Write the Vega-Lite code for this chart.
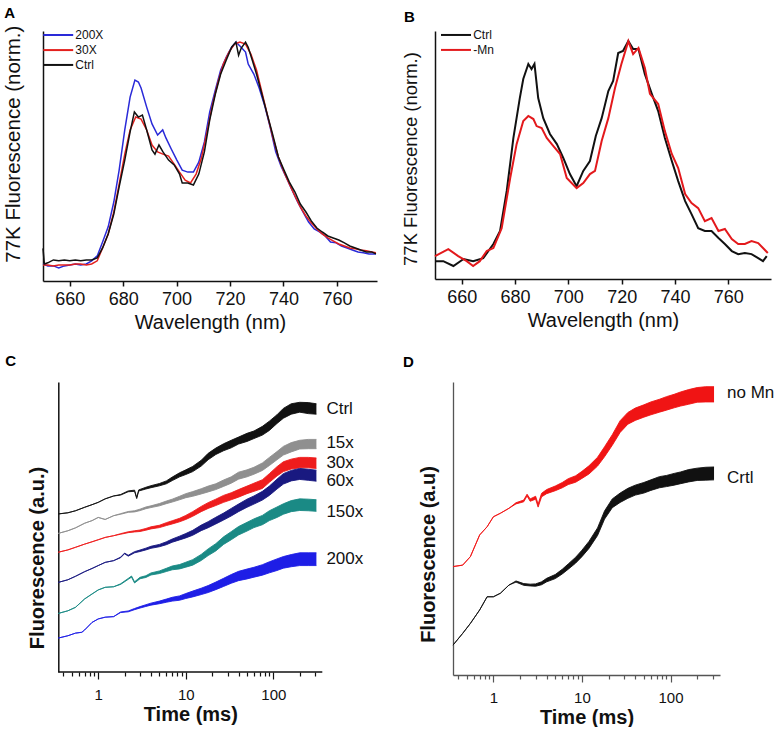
{
"$schema": "https://vega.github.io/schema/vega-lite/v6.json",
"background": "white",
"padding": {"left": 2, "top": 6, "right": 0, "bottom": 0},
"config": {
  "font": "Liberation Sans",
  "view": {"stroke": null},
  "axis": {"grid": false, "domainColor": "#111", "tickColor": "#111", "labelColor": "#111", "titleColor": "#111", "labelFont": "Liberation Sans", "titleFont": "Liberation Sans"},
  "title": {"anchor": "start", "frame": "group", "baseline": "alphabetic", "fontSize": 15, "fontWeight": "bold", "font": "Liberation Sans", "color": "#000"}
},
"datasets": {
"specA": [
{"s":"200X","w":650.0,"f":0.000},{"s":"200X","w":651.8,"f":-0.009},{"s":"200X","w":653.9,"f":-0.009},{"s":"200X","w":655.9,"f":-0.018},{"s":"200X","w":658.0,"f":-0.009},{"s":"200X","w":660.0,"f":-0.005},{"s":"200X","w":662.1,"f":0.000},{"s":"200X","w":664.1,"f":-0.005},{"s":"200X","w":666.2,"f":0.000},{"s":"200X","w":668.2,"f":0.014},{"s":"200X","w":670.3,"f":0.036},{"s":"200X","w":672.3,"f":0.099},{"s":"200X","w":674.4,"f":0.167},{"s":"200X","w":676.5,"f":0.279},{"s":"200X","w":678.5,"f":0.423},{"s":"200X","w":680.6,"f":0.604},{"s":"200X","w":682.6,"f":0.752},{"s":"200X","w":684.4,"f":0.829},{"s":"200X","w":685.7,"f":0.820},{"s":"200X","w":686.7,"f":0.793},{"s":"200X","w":688.8,"f":0.707},{"s":"200X","w":690.8,"f":0.631},{"s":"200X","w":692.9,"f":0.581},{"s":"200X","w":694.8,"f":0.604},{"s":"200X","w":696.0,"f":0.568},{"s":"200X","w":698.0,"f":0.518},{"s":"200X","w":700.1,"f":0.468},{"s":"200X","w":702.1,"f":0.423},{"s":"200X","w":704.2,"f":0.414},{"s":"200X","w":706.3,"f":0.414},{"s":"200X","w":708.3,"f":0.459},{"s":"200X","w":710.4,"f":0.550},{"s":"200X","w":712.4,"f":0.685},{"s":"200X","w":714.5,"f":0.784},{"s":"200X","w":716.5,"f":0.874},{"s":"200X","w":718.6,"f":0.932},{"s":"200X","w":720.6,"f":0.977},{"s":"200X","w":722.2,"f":1.000},{"s":"200X","w":723.7,"f":0.982},{"s":"200X","w":725.8,"f":0.955},{"s":"200X","w":726.8,"f":0.901},{"s":"200X","w":728.9,"f":0.856},{"s":"200X","w":730.9,"f":0.793},{"s":"200X","w":733.0,"f":0.712},{"s":"200X","w":735.0,"f":0.617},{"s":"200X","w":737.1,"f":0.505},{"s":"200X","w":739.1,"f":0.441},{"s":"200X","w":741.2,"f":0.387},{"s":"200X","w":743.2,"f":0.333},{"s":"200X","w":745.3,"f":0.279},{"s":"200X","w":747.3,"f":0.234},{"s":"200X","w":749.4,"f":0.189},{"s":"200X","w":751.5,"f":0.158},{"s":"200X","w":753.5,"f":0.144},{"s":"200X","w":755.6,"f":0.126},{"s":"200X","w":757.6,"f":0.099},{"s":"200X","w":759.7,"f":0.095},{"s":"200X","w":761.7,"f":0.081},{"s":"200X","w":763.8,"f":0.072},{"s":"200X","w":765.8,"f":0.063},{"s":"200X","w":767.9,"f":0.054},{"s":"200X","w":769.9,"f":0.050},{"s":"200X","w":772.0,"f":0.045},{"s":"200X","w":774.6,"f":0.045},
{"s":"30X","w":650.0,"f":-0.005},{"s":"30X","w":651.8,"f":-0.005},{"s":"30X","w":653.9,"f":-0.009},{"s":"30X","w":655.9,"f":-0.005},{"s":"30X","w":658.0,"f":-0.005},{"s":"30X","w":660.0,"f":-0.005},{"s":"30X","w":662.1,"f":0.000},{"s":"30X","w":664.1,"f":0.000},{"s":"30X","w":666.2,"f":-0.005},{"s":"30X","w":668.2,"f":0.000},{"s":"30X","w":670.3,"f":0.014},{"s":"30X","w":672.3,"f":0.072},{"s":"30X","w":674.4,"f":0.135},{"s":"30X","w":676.5,"f":0.234},{"s":"30X","w":678.5,"f":0.360},{"s":"30X","w":680.6,"f":0.495},{"s":"30X","w":682.6,"f":0.604},{"s":"30X","w":684.7,"f":0.662},{"s":"30X","w":686.7,"f":0.653},{"s":"30X","w":688.8,"f":0.604},{"s":"30X","w":690.8,"f":0.536},{"s":"30X","w":692.9,"f":0.505},{"s":"30X","w":694.9,"f":0.495},{"s":"30X","w":697.0,"f":0.486},{"s":"30X","w":699.1,"f":0.450},{"s":"30X","w":701.1,"f":0.414},{"s":"30X","w":703.2,"f":0.378},{"s":"30X","w":705.2,"f":0.365},{"s":"30X","w":707.3,"f":0.405},{"s":"30X","w":709.3,"f":0.477},{"s":"30X","w":711.4,"f":0.595},{"s":"30X","w":713.4,"f":0.716},{"s":"30X","w":715.5,"f":0.820},{"s":"30X","w":717.5,"f":0.901},{"s":"30X","w":719.6,"f":0.955},{"s":"30X","w":721.7,"f":0.991},{"s":"30X","w":723.7,"f":1.000},{"s":"30X","w":725.8,"f":0.991},{"s":"30X","w":727.8,"f":0.946},{"s":"30X","w":729.9,"f":0.874},{"s":"30X","w":731.9,"f":0.775},{"s":"30X","w":734.0,"f":0.671},{"s":"30X","w":736.0,"f":0.572},{"s":"30X","w":738.1,"f":0.482},{"s":"30X","w":740.2,"f":0.414},{"s":"30X","w":742.2,"f":0.360},{"s":"30X","w":744.3,"f":0.306},{"s":"30X","w":746.3,"f":0.257},{"s":"30X","w":748.4,"f":0.216},{"s":"30X","w":750.4,"f":0.185},{"s":"30X","w":752.5,"f":0.158},{"s":"30X","w":754.5,"f":0.135},{"s":"30X","w":756.6,"f":0.117},{"s":"30X","w":758.6,"f":0.104},{"s":"30X","w":760.7,"f":0.090},{"s":"30X","w":762.8,"f":0.081},{"s":"30X","w":764.8,"f":0.072},{"s":"30X","w":766.9,"f":0.068},{"s":"30X","w":768.9,"f":0.063},{"s":"30X","w":771.0,"f":0.059},{"s":"30X","w":773.0,"f":0.054},{"s":"30X","w":774.6,"f":0.050},
{"s":"Ctrl","w":650.0,"f":0.070},{"s":"Ctrl","w":650.5,"f":0.000},{"s":"Ctrl","w":651.8,"f":0.005},{"s":"Ctrl","w":653.9,"f":0.018},{"s":"Ctrl","w":655.9,"f":0.014},{"s":"Ctrl","w":658.0,"f":0.018},{"s":"Ctrl","w":660.0,"f":0.014},{"s":"Ctrl","w":662.1,"f":0.018},{"s":"Ctrl","w":664.1,"f":0.014},{"s":"Ctrl","w":666.2,"f":0.018},{"s":"Ctrl","w":668.2,"f":0.018},{"s":"Ctrl","w":670.3,"f":0.027},{"s":"Ctrl","w":672.3,"f":0.072},{"s":"Ctrl","w":674.4,"f":0.135},{"s":"Ctrl","w":676.5,"f":0.225},{"s":"Ctrl","w":678.5,"f":0.347},{"s":"Ctrl","w":680.6,"f":0.468},{"s":"Ctrl","w":682.6,"f":0.595},{"s":"Ctrl","w":684.2,"f":0.685},{"s":"Ctrl","w":685.7,"f":0.662},{"s":"Ctrl","w":687.2,"f":0.671},{"s":"Ctrl","w":688.8,"f":0.604},{"s":"Ctrl","w":690.8,"f":0.514},{"s":"Ctrl","w":691.9,"f":0.495},{"s":"Ctrl","w":693.4,"f":0.536},{"s":"Ctrl","w":694.9,"f":0.505},{"s":"Ctrl","w":697.0,"f":0.468},{"s":"Ctrl","w":699.1,"f":0.446},{"s":"Ctrl","w":701.1,"f":0.405},{"s":"Ctrl","w":702.1,"f":0.365},{"s":"Ctrl","w":704.2,"f":0.365},{"s":"Ctrl","w":706.3,"f":0.356},{"s":"Ctrl","w":708.3,"f":0.405},{"s":"Ctrl","w":710.4,"f":0.505},{"s":"Ctrl","w":712.4,"f":0.649},{"s":"Ctrl","w":714.5,"f":0.766},{"s":"Ctrl","w":716.5,"f":0.856},{"s":"Ctrl","w":718.6,"f":0.919},{"s":"Ctrl","w":720.6,"f":0.977},{"s":"Ctrl","w":722.2,"f":1.000},{"s":"Ctrl","w":723.2,"f":0.941},{"s":"Ctrl","w":724.2,"f":0.973},{"s":"Ctrl","w":725.8,"f":1.000},{"s":"Ctrl","w":726.8,"f":0.977},{"s":"Ctrl","w":728.3,"f":0.919},{"s":"Ctrl","w":729.9,"f":0.856},{"s":"Ctrl","w":731.9,"f":0.766},{"s":"Ctrl","w":734.0,"f":0.671},{"s":"Ctrl","w":736.0,"f":0.581},{"s":"Ctrl","w":738.1,"f":0.482},{"s":"Ctrl","w":740.2,"f":0.423},{"s":"Ctrl","w":742.2,"f":0.369},{"s":"Ctrl","w":744.3,"f":0.324},{"s":"Ctrl","w":746.3,"f":0.270},{"s":"Ctrl","w":748.4,"f":0.234},{"s":"Ctrl","w":750.4,"f":0.194},{"s":"Ctrl","w":752.5,"f":0.162},{"s":"Ctrl","w":754.5,"f":0.144},{"s":"Ctrl","w":756.6,"f":0.126},{"s":"Ctrl","w":758.6,"f":0.117},{"s":"Ctrl","w":760.7,"f":0.108},{"s":"Ctrl","w":762.8,"f":0.095},{"s":"Ctrl","w":764.8,"f":0.081},{"s":"Ctrl","w":766.9,"f":0.072},{"s":"Ctrl","w":768.9,"f":0.063},{"s":"Ctrl","w":771.0,"f":0.054},{"s":"Ctrl","w":773.0,"f":0.054},{"s":"Ctrl","w":774.6,"f":0.045}
],
"specB": [
{"s":"Ctrl","w":650.0,"f":-0.005},{"s":"Ctrl","w":653.1,"f":-0.005},{"s":"Ctrl","w":656.9,"f":-0.027},{"s":"Ctrl","w":660.7,"f":0.005},{"s":"Ctrl","w":664.3,"f":-0.005},{"s":"Ctrl","w":668.1,"f":0.009},{"s":"Ctrl","w":671.9,"f":0.073},{"s":"Ctrl","w":674.4,"f":0.132},{"s":"Ctrl","w":676.9,"f":0.314},{"s":"Ctrl","w":679.4,"f":0.555},{"s":"Ctrl","w":681.8,"f":0.736},{"s":"Ctrl","w":683.1,"f":0.823},{"s":"Ctrl","w":685.0,"f":0.891},{"s":"Ctrl","w":686.2,"f":0.868},{"s":"Ctrl","w":687.3,"f":0.891},{"s":"Ctrl","w":688.7,"f":0.736},{"s":"Ctrl","w":690.6,"f":0.645},{"s":"Ctrl","w":693.1,"f":0.573},{"s":"Ctrl","w":695.7,"f":0.527},{"s":"Ctrl","w":698.1,"f":0.464},{"s":"Ctrl","w":700.6,"f":0.391},{"s":"Ctrl","w":703.1,"f":0.336},{"s":"Ctrl","w":705.6,"f":0.405},{"s":"Ctrl","w":708.1,"f":0.450},{"s":"Ctrl","w":710.3,"f":0.564},{"s":"Ctrl","w":712.5,"f":0.645},{"s":"Ctrl","w":715.0,"f":0.768},{"s":"Ctrl","w":716.8,"f":0.814},{"s":"Ctrl","w":718.7,"f":0.941},{"s":"Ctrl","w":720.5,"f":0.950},{"s":"Ctrl","w":722.5,"f":0.995},{"s":"Ctrl","w":724.3,"f":0.959},{"s":"Ctrl","w":726.3,"f":0.959},{"s":"Ctrl","w":728.7,"f":0.845},{"s":"Ctrl","w":731.3,"f":0.755},{"s":"Ctrl","w":733.7,"f":0.677},{"s":"Ctrl","w":736.2,"f":0.555},{"s":"Ctrl","w":738.8,"f":0.450},{"s":"Ctrl","w":741.2,"f":0.359},{"s":"Ctrl","w":743.8,"f":0.268},{"s":"Ctrl","w":746.2,"f":0.209},{"s":"Ctrl","w":748.7,"f":0.145},{"s":"Ctrl","w":751.2,"f":0.132},{"s":"Ctrl","w":753.7,"f":0.132},{"s":"Ctrl","w":756.3,"f":0.100},{"s":"Ctrl","w":758.7,"f":0.073},{"s":"Ctrl","w":761.3,"f":0.041},{"s":"Ctrl","w":763.7,"f":0.027},{"s":"Ctrl","w":766.2,"f":0.032},{"s":"Ctrl","w":768.7,"f":0.027},{"s":"Ctrl","w":771.2,"f":0.009},{"s":"Ctrl","w":773.0,"f":-0.005},{"s":"Ctrl","w":774.4,"f":0.018},
{"s":"-Mn","w":650.0,"f":0.018},{"s":"-Mn","w":655.0,"f":0.050},{"s":"-Mn","w":658.7,"f":0.018},{"s":"-Mn","w":661.9,"f":-0.005},{"s":"-Mn","w":664.3,"f":-0.027},{"s":"-Mn","w":666.8,"f":-0.005},{"s":"-Mn","w":669.4,"f":0.041},{"s":"-Mn","w":671.9,"f":0.055},{"s":"-Mn","w":675.0,"f":0.145},{"s":"-Mn","w":678.2,"f":0.373},{"s":"-Mn","w":680.6,"f":0.527},{"s":"-Mn","w":683.1,"f":0.632},{"s":"-Mn","w":685.0,"f":0.655},{"s":"-Mn","w":686.9,"f":0.641},{"s":"-Mn","w":688.1,"f":0.609},{"s":"-Mn","w":690.0,"f":0.600},{"s":"-Mn","w":691.9,"f":0.555},{"s":"-Mn","w":694.4,"f":0.518},{"s":"-Mn","w":696.9,"f":0.482},{"s":"-Mn","w":699.4,"f":0.373},{"s":"-Mn","w":703.1,"f":0.327},{"s":"-Mn","w":705.6,"f":0.350},{"s":"-Mn","w":708.1,"f":0.391},{"s":"-Mn","w":710.0,"f":0.405},{"s":"-Mn","w":712.5,"f":0.541},{"s":"-Mn","w":715.0,"f":0.645},{"s":"-Mn","w":717.5,"f":0.782},{"s":"-Mn","w":719.9,"f":0.891},{"s":"-Mn","w":722.5,"f":0.995},{"s":"-Mn","w":724.3,"f":0.936},{"s":"-Mn","w":726.3,"f":0.964},{"s":"-Mn","w":728.7,"f":0.873},{"s":"-Mn","w":730.6,"f":0.755},{"s":"-Mn","w":733.7,"f":0.709},{"s":"-Mn","w":736.2,"f":0.586},{"s":"-Mn","w":738.8,"f":0.482},{"s":"-Mn","w":741.2,"f":0.418},{"s":"-Mn","w":743.8,"f":0.300},{"s":"-Mn","w":746.2,"f":0.259},{"s":"-Mn","w":748.7,"f":0.236},{"s":"-Mn","w":751.2,"f":0.177},{"s":"-Mn","w":753.7,"f":0.191},{"s":"-Mn","w":756.3,"f":0.132},{"s":"-Mn","w":758.7,"f":0.141},{"s":"-Mn","w":761.3,"f":0.095},{"s":"-Mn","w":763.7,"f":0.073},{"s":"-Mn","w":766.2,"f":0.073},{"s":"-Mn","w":768.7,"f":0.086},{"s":"-Mn","w":771.2,"f":0.077},{"s":"-Mn","w":773.0,"f":0.055},{"s":"-Mn","w":774.8,"f":0.032}
],
"kinC": [
{"s":"Ctrl","t":0.35,"f":54.5,"e":0},{"s":"Ctrl","t":0.45,"f":54.9,"e":0},{"s":"Ctrl","t":0.55,"f":55.6,"e":0},{"s":"Ctrl","t":0.7,"f":56.8,"e":0},{"s":"Ctrl","t":0.85,"f":57.7,"e":0},{"s":"Ctrl","t":1,"f":58.5,"e":0},{"s":"Ctrl","t":1.2,"f":59.7,"e":0},{"s":"Ctrl","t":1.5,"f":60.7,"e":0},{"s":"Ctrl","t":1.8,"f":61.1,"e":0.1},{"s":"Ctrl","t":2.2,"f":62.3,"e":0.15},{"s":"Ctrl","t":2.6,"f":62.5,"e":0.2},{"s":"Ctrl","t":2.75,"f":60.0,"e":0.2},{"s":"Ctrl","t":2.9,"f":62.6,"e":0.2},{"s":"Ctrl","t":3.5,"f":63.4,"e":0.3},{"s":"Ctrl","t":4,"f":63.9,"e":0.35},{"s":"Ctrl","t":5,"f":64.6,"e":0.4},{"s":"Ctrl","t":6,"f":65.4,"e":0.5},{"s":"Ctrl","t":7,"f":66.6,"e":0.6},{"s":"Ctrl","t":8.5,"f":68.0,"e":0.7},{"s":"Ctrl","t":10,"f":68.9,"e":0.8},{"s":"Ctrl","t":12,"f":70.0,"e":0.9},{"s":"Ctrl","t":15,"f":72.0,"e":1.0},{"s":"Ctrl","t":18,"f":74.3,"e":1.1},{"s":"Ctrl","t":22,"f":76.1,"e":1.1},{"s":"Ctrl","t":27,"f":77.5,"e":1.2},{"s":"Ctrl","t":33,"f":78.6,"e":1.3},{"s":"Ctrl","t":40,"f":79.8,"e":1.2},{"s":"Ctrl","t":50,"f":80.9,"e":1.4},{"s":"Ctrl","t":60,"f":81.8,"e":1.3},{"s":"Ctrl","t":75,"f":83.2,"e":1.5},{"s":"Ctrl","t":90,"f":84.9,"e":1.6},{"s":"Ctrl","t":110,"f":87.2,"e":1.5},{"s":"Ctrl","t":130,"f":89.2,"e":1.7},{"s":"Ctrl","t":160,"f":90.7,"e":1.8},{"s":"Ctrl","t":200,"f":91.3,"e":1.7},{"s":"Ctrl","t":250,"f":91.0,"e":1.9},{"s":"Ctrl","t":310,"f":90.7,"e":1.8},
{"s":"15x","t":0.35,"f":47.8,"e":0},{"s":"15x","t":0.45,"f":48.7,"e":0},{"s":"15x","t":0.55,"f":49.7,"e":0},{"s":"15x","t":0.7,"f":51.3,"e":0},{"s":"15x","t":0.85,"f":52.2,"e":0},{"s":"15x","t":1,"f":53.3,"e":0},{"s":"15x","t":1.2,"f":52.6,"e":0},{"s":"15x","t":1.5,"f":53.9,"e":0},{"s":"15x","t":1.8,"f":54.5,"e":0.1},{"s":"15x","t":2.2,"f":55.2,"e":0.15},{"s":"15x","t":2.6,"f":55.4,"e":0.2},{"s":"15x","t":3,"f":55.9,"e":0.25},{"s":"15x","t":3.5,"f":56.6,"e":0.3},{"s":"15x","t":4,"f":57.0,"e":0.3},{"s":"15x","t":5,"f":57.7,"e":0.4},{"s":"15x","t":6,"f":58.5,"e":0.45},{"s":"15x","t":7,"f":59.1,"e":0.5},{"s":"15x","t":8.5,"f":60.0,"e":0.6},{"s":"15x","t":10,"f":60.8,"e":0.7},{"s":"15x","t":12,"f":61.4,"e":0.8},{"s":"15x","t":15,"f":62.3,"e":0.9},{"s":"15x","t":18,"f":63.1,"e":1.0},{"s":"15x","t":22,"f":63.9,"e":1.0},{"s":"15x","t":27,"f":65.1,"e":1.1},{"s":"15x","t":33,"f":66.2,"e":1.1},{"s":"15x","t":40,"f":67.7,"e":1.2},{"s":"15x","t":50,"f":68.5,"e":1.2},{"s":"15x","t":60,"f":69.4,"e":1.2},{"s":"15x","t":75,"f":70.8,"e":1.3},{"s":"15x","t":90,"f":72.6,"e":1.4},{"s":"15x","t":110,"f":74.6,"e":1.4},{"s":"15x","t":130,"f":76.3,"e":1.5},{"s":"15x","t":160,"f":77.5,"e":1.6},{"s":"15x","t":200,"f":78.4,"e":1.5},{"s":"15x","t":250,"f":78.6,"e":1.6},{"s":"15x","t":310,"f":78.6,"e":1.6},
{"s":"30x","t":0.35,"f":41.3,"e":0},{"s":"30x","t":0.45,"f":42.1,"e":0},{"s":"30x","t":0.55,"f":43.0,"e":0},{"s":"30x","t":0.7,"f":44.1,"e":0},{"s":"30x","t":0.85,"f":44.9,"e":0},{"s":"30x","t":1,"f":45.6,"e":0},{"s":"30x","t":1.2,"f":46.4,"e":0},{"s":"30x","t":1.5,"f":47.0,"e":0},{"s":"30x","t":1.8,"f":47.6,"e":0.1},{"s":"30x","t":2.2,"f":48.2,"e":0.15},{"s":"30x","t":2.6,"f":48.5,"e":0.2},{"s":"30x","t":3,"f":48.7,"e":0.25},{"s":"30x","t":3.5,"f":49.2,"e":0.3},{"s":"30x","t":4,"f":49.7,"e":0.35},{"s":"30x","t":5,"f":50.2,"e":0.4},{"s":"30x","t":6,"f":51.0,"e":0.5},{"s":"30x","t":7,"f":51.6,"e":0.55},{"s":"30x","t":8.5,"f":52.4,"e":0.6},{"s":"30x","t":10,"f":53.3,"e":0.7},{"s":"30x","t":12,"f":54.5,"e":0.8},{"s":"30x","t":15,"f":56.2,"e":0.9},{"s":"30x","t":18,"f":57.4,"e":1.0},{"s":"30x","t":22,"f":58.5,"e":1.1},{"s":"30x","t":27,"f":59.7,"e":1.2},{"s":"30x","t":33,"f":60.6,"e":1.2},{"s":"30x","t":40,"f":61.6,"e":1.3},{"s":"30x","t":50,"f":62.8,"e":1.3},{"s":"30x","t":60,"f":63.7,"e":1.4},{"s":"30x","t":75,"f":64.8,"e":1.5},{"s":"30x","t":90,"f":66.9,"e":1.5},{"s":"30x","t":110,"f":69.2,"e":1.6},{"s":"30x","t":130,"f":70.8,"e":1.7},{"s":"30x","t":160,"f":71.7,"e":1.7},{"s":"30x","t":200,"f":72.2,"e":1.8},{"s":"30x","t":250,"f":72.2,"e":1.8},{"s":"30x","t":310,"f":72.0,"e":1.8},
{"s":"60x","t":0.35,"f":30.9,"e":0},{"s":"60x","t":0.45,"f":31.8,"e":0},{"s":"60x","t":0.55,"f":33.0,"e":0},{"s":"60x","t":0.7,"f":34.6,"e":0},{"s":"60x","t":0.85,"f":35.7,"e":0},{"s":"60x","t":1,"f":36.7,"e":0},{"s":"60x","t":1.2,"f":37.8,"e":0},{"s":"60x","t":1.5,"f":38.4,"e":0},{"s":"60x","t":1.8,"f":39.5,"e":0.1},{"s":"60x","t":2,"f":40.9,"e":0.1},{"s":"60x","t":2.2,"f":40.1,"e":0.15},{"s":"60x","t":2.6,"f":41.3,"e":0.2},{"s":"60x","t":3,"f":41.8,"e":0.25},{"s":"60x","t":3.5,"f":42.4,"e":0.3},{"s":"60x","t":4,"f":43.0,"e":0.35},{"s":"60x","t":5,"f":43.6,"e":0.4},{"s":"60x","t":6,"f":44.4,"e":0.5},{"s":"60x","t":7,"f":45.3,"e":0.55},{"s":"60x","t":8.5,"f":46.2,"e":0.65},{"s":"60x","t":10,"f":47.0,"e":0.75},{"s":"60x","t":12,"f":48.0,"e":0.85},{"s":"60x","t":15,"f":49.7,"e":0.95},{"s":"60x","t":18,"f":50.8,"e":1.05},{"s":"60x","t":22,"f":52.2,"e":1.15},{"s":"60x","t":27,"f":53.6,"e":1.2},{"s":"60x","t":33,"f":55.1,"e":1.3},{"s":"60x","t":40,"f":56.6,"e":1.3},{"s":"60x","t":50,"f":58.2,"e":1.4},{"s":"60x","t":60,"f":59.3,"e":1.4},{"s":"60x","t":75,"f":60.8,"e":1.5},{"s":"60x","t":90,"f":62.5,"e":1.6},{"s":"60x","t":110,"f":64.8,"e":1.7},{"s":"60x","t":130,"f":66.6,"e":1.8},{"s":"60x","t":160,"f":67.7,"e":1.8},{"s":"60x","t":200,"f":68.3,"e":1.9},{"s":"60x","t":250,"f":68.0,"e":1.9},{"s":"60x","t":310,"f":67.7,"e":1.9},
{"s":"150x","t":0.35,"f":20.2,"e":0},{"s":"150x","t":0.45,"f":21.1,"e":0},{"s":"150x","t":0.55,"f":22.3,"e":0},{"s":"150x","t":0.7,"f":25.2,"e":0},{"s":"150x","t":0.85,"f":26.9,"e":0},{"s":"150x","t":1,"f":28.3,"e":0},{"s":"150x","t":1.2,"f":29.2,"e":0},{"s":"150x","t":1.5,"f":29.4,"e":0},{"s":"150x","t":1.8,"f":30.3,"e":0.1},{"s":"150x","t":2.2,"f":32.1,"e":0.15},{"s":"150x","t":2.4,"f":32.9,"e":0.2},{"s":"150x","t":2.6,"f":30.9,"e":0.2},{"s":"150x","t":3,"f":32.4,"e":0.25},{"s":"150x","t":3.5,"f":32.9,"e":0.3},{"s":"150x","t":4,"f":33.8,"e":0.35},{"s":"150x","t":5,"f":34.4,"e":0.45},{"s":"150x","t":6,"f":35.2,"e":0.55},{"s":"150x","t":7,"f":35.9,"e":0.65},{"s":"150x","t":8.5,"f":36.3,"e":0.75},{"s":"150x","t":10,"f":37.0,"e":0.85},{"s":"150x","t":12,"f":37.8,"e":0.95},{"s":"150x","t":15,"f":39.5,"e":1.05},{"s":"150x","t":18,"f":41.3,"e":1.15},{"s":"150x","t":22,"f":43.0,"e":1.25},{"s":"150x","t":27,"f":45.3,"e":1.3},{"s":"150x","t":33,"f":47.0,"e":1.4},{"s":"150x","t":40,"f":48.7,"e":1.45},{"s":"150x","t":50,"f":50.1,"e":1.5},{"s":"150x","t":60,"f":51.3,"e":1.5},{"s":"150x","t":75,"f":52.4,"e":1.6},{"s":"150x","t":90,"f":53.9,"e":1.7},{"s":"150x","t":110,"f":55.1,"e":1.8},{"s":"150x","t":130,"f":56.2,"e":1.8},{"s":"150x","t":160,"f":57.2,"e":1.9},{"s":"150x","t":200,"f":57.7,"e":2.0},{"s":"150x","t":250,"f":57.6,"e":2.0},{"s":"150x","t":310,"f":57.4,"e":2.0},
{"s":"200x","t":0.35,"f":11.7,"e":0},{"s":"200x","t":0.45,"f":12.5,"e":0},{"s":"200x","t":0.55,"f":13.4,"e":0},{"s":"200x","t":0.65,"f":13.7,"e":0},{"s":"200x","t":0.7,"f":14.5,"e":0},{"s":"200x","t":0.85,"f":17.1,"e":0},{"s":"200x","t":1,"f":18.3,"e":0},{"s":"200x","t":1.2,"f":18.9,"e":0},{"s":"200x","t":1.5,"f":19.1,"e":0},{"s":"200x","t":1.8,"f":20.6,"e":0.1},{"s":"200x","t":2.2,"f":20.9,"e":0.15},{"s":"200x","t":2.6,"f":21.7,"e":0.2},{"s":"200x","t":3,"f":22.3,"e":0.25},{"s":"200x","t":3.5,"f":22.9,"e":0.3},{"s":"200x","t":4,"f":23.4,"e":0.35},{"s":"200x","t":5,"f":24.0,"e":0.45},{"s":"200x","t":6,"f":24.6,"e":0.55},{"s":"200x","t":7,"f":25.1,"e":0.65},{"s":"200x","t":8.5,"f":25.5,"e":0.75},{"s":"200x","t":10,"f":26.2,"e":0.85},{"s":"200x","t":12,"f":26.9,"e":1.0},{"s":"200x","t":15,"f":27.8,"e":1.1},{"s":"200x","t":18,"f":28.6,"e":1.2},{"s":"200x","t":22,"f":29.7,"e":1.3},{"s":"200x","t":27,"f":30.9,"e":1.4},{"s":"200x","t":33,"f":32.1,"e":1.5},{"s":"200x","t":40,"f":33.1,"e":1.6},{"s":"200x","t":50,"f":33.8,"e":1.7},{"s":"200x","t":60,"f":34.4,"e":1.7},{"s":"200x","t":75,"f":35.2,"e":1.8},{"s":"200x","t":90,"f":36.1,"e":1.9},{"s":"200x","t":110,"f":37.0,"e":2.0},{"s":"200x","t":130,"f":37.8,"e":2.0},{"s":"200x","t":160,"f":38.4,"e":2.1},{"s":"200x","t":200,"f":38.9,"e":2.2},{"s":"200x","t":250,"f":38.9,"e":2.2},{"s":"200x","t":310,"f":38.9,"e":2.2}
],
"kinD": [
{"s":"no Mn","t":0.35,"f":37.0,"e":0},{"s":"no Mn","t":0.45,"f":37.5,"e":0},{"s":"no Mn","t":0.55,"f":40.4,"e":0},{"s":"no Mn","t":0.7,"f":47.8,"e":0},{"s":"no Mn","t":0.85,"f":50.6,"e":0},{"s":"no Mn","t":1,"f":54.0,"e":0},{"s":"no Mn","t":1.2,"f":55.2,"e":0},{"s":"no Mn","t":1.5,"f":56.9,"e":0},{"s":"no Mn","t":1.8,"f":58.6,"e":0.2},{"s":"no Mn","t":2.2,"f":59.4,"e":0.3},{"s":"no Mn","t":2.4,"f":61.4,"e":0.3},{"s":"no Mn","t":2.6,"f":59.7,"e":0.4},{"s":"no Mn","t":3,"f":60.5,"e":0.5},{"s":"no Mn","t":3.2,"f":57.8,"e":0.5},{"s":"no Mn","t":3.5,"f":61.4,"e":0.6},{"s":"no Mn","t":4,"f":62.6,"e":0.7},{"s":"no Mn","t":5,"f":63.7,"e":0.8},{"s":"no Mn","t":6,"f":64.8,"e":0.9},{"s":"no Mn","t":7,"f":66.0,"e":1.0},{"s":"no Mn","t":8.5,"f":66.9,"e":1.1},{"s":"no Mn","t":10,"f":68.3,"e":1.2},{"s":"no Mn","t":12,"f":70.0,"e":1.4},{"s":"no Mn","t":15,"f":72.8,"e":1.5},{"s":"no Mn","t":18,"f":76.2,"e":1.7},{"s":"no Mn","t":22,"f":80.2,"e":1.8},{"s":"no Mn","t":27,"f":84.8,"e":2.0},{"s":"no Mn","t":33,"f":87.6,"e":2.0},{"s":"no Mn","t":40,"f":89.0,"e":2.1},{"s":"no Mn","t":50,"f":90.1,"e":2.1},{"s":"no Mn","t":60,"f":91.0,"e":2.2},{"s":"no Mn","t":75,"f":91.9,"e":2.2},{"s":"no Mn","t":90,"f":92.7,"e":2.3},{"s":"no Mn","t":110,"f":93.5,"e":2.3},{"s":"no Mn","t":130,"f":94.2,"e":2.4},{"s":"no Mn","t":160,"f":94.9,"e":2.5},{"s":"no Mn","t":200,"f":95.6,"e":2.5},{"s":"no Mn","t":250,"f":95.8,"e":2.6},{"s":"no Mn","t":310,"f":95.8,"e":2.6},
{"s":"Crtl","t":0.35,"f":10.2,"e":0},{"s":"Crtl","t":0.45,"f":14.2,"e":0},{"s":"Crtl","t":0.55,"f":17.6,"e":0},{"s":"Crtl","t":0.7,"f":22.2,"e":0},{"s":"Crtl","t":0.85,"f":26.7,"e":0},{"s":"Crtl","t":1,"f":26.7,"e":0},{"s":"Crtl","t":1.2,"f":27.9,"e":0},{"s":"Crtl","t":1.5,"f":30.7,"e":0},{"s":"Crtl","t":1.8,"f":31.9,"e":0.2},{"s":"Crtl","t":2.2,"f":30.9,"e":0.3},{"s":"Crtl","t":2.6,"f":30.7,"e":0.3},{"s":"Crtl","t":3,"f":30.7,"e":0.4},{"s":"Crtl","t":3.5,"f":31.3,"e":0.5},{"s":"Crtl","t":4,"f":32.4,"e":0.6},{"s":"Crtl","t":5,"f":33.6,"e":0.7},{"s":"Crtl","t":6,"f":35.3,"e":0.8},{"s":"Crtl","t":7,"f":37.0,"e":0.9},{"s":"Crtl","t":8.5,"f":39.2,"e":1.0},{"s":"Crtl","t":10,"f":41.5,"e":1.1},{"s":"Crtl","t":12,"f":44.4,"e":1.2},{"s":"Crtl","t":15,"f":48.9,"e":1.3},{"s":"Crtl","t":18,"f":54.6,"e":1.4},{"s":"Crtl","t":22,"f":58.6,"e":1.5},{"s":"Crtl","t":27,"f":60.5,"e":1.6},{"s":"Crtl","t":33,"f":62.0,"e":1.7},{"s":"Crtl","t":40,"f":63.1,"e":1.7},{"s":"Crtl","t":50,"f":63.9,"e":1.8},{"s":"Crtl","t":60,"f":64.8,"e":1.8},{"s":"Crtl","t":75,"f":65.8,"e":1.9},{"s":"Crtl","t":90,"f":66.2,"e":1.9},{"s":"Crtl","t":110,"f":66.8,"e":2.0},{"s":"Crtl","t":130,"f":67.3,"e":2.0},{"s":"Crtl","t":160,"f":68.0,"e":2.1},{"s":"Crtl","t":200,"f":68.5,"e":2.1},{"s":"Crtl","t":250,"f":68.7,"e":2.2},{"s":"Crtl","t":310,"f":68.8,"e":2.2}
],
"labC": [{"s":"Ctrl","t":310,"f":90.7},{"s":"15x","t":310,"f":79.0},{"s":"30x","t":310,"f":72.1},{"s":"60x","t":310,"f":65.9},{"s":"150x","t":310,"f":55.2},{"s":"200x","t":310,"f":39.0}],
"labD": [{"s":"no Mn","t":310,"f":96.1},{"s":"Crtl","t":310,"f":67.1}]
},
"spacing": 22,
"resolve": {"scale": {"color": "independent"}},
"vconcat": [
{
 "hconcat": [
  {
   "width": 334, "height": 250,
   "title": {"text": "A", "dx": -38.7, "offset": 4},
   "layer": [
    {
     "data": {"name": "specA"},
     "mark": {"type": "line", "strokeWidth": 1.5},
     "encoding": {
      "x": {"field": "w", "type": "quantitative", "scale": {"domain": [650, 775], "nice": false, "zero": false},
        "axis": {"values": [660,670,680,690,700,710,720,730,740,750,760,770], "labelExpr": "datum.value % 20 == 0 ? datum.label : ''", "tickSize": {"condition": {"test": "datum.value % 20 == 0", "value": 5}, "value": 3}, "tickWidth": 1.5, "domainWidth": 1.5, "labelFontSize": 18, "labelPadding": 4, "labelOverlap": false, "labelFlush": false, "title": "Wavelength (nm)", "titleFontSize": 20, "titleFontWeight": "normal", "titlePadding": 4}},
      "y": {"field": "f", "type": "quantitative", "scale": {"domain": [-0.077, 1.05], "nice": false, "zero": false},
        "axis": {"ticks": false, "labels": false, "domainWidth": 1.5, "title": "77K Fluorescence (norm.)", "titleFontSize": 20.5, "titleFontWeight": "normal", "titlePadding": 20, "titleY": 112.7}},
      "color": {"field": "s", "type": "nominal", "sort": null, "scale": {"domain": ["200X", "30X", "Ctrl"], "range": ["#2a2ad8", "#e3201d", "#111111"]}, "legend": null}
     }
    },
    {"data": {"values": [{}]}, "mark": {"type": "rule", "color": "#2a2ad8", "strokeWidth": 2}, "encoding": {"x": {"datum": 650.1}, "x2": {"datum": 661.3}, "y": {"datum": 1.032}}},
    {"data": {"values": [{}]}, "mark": {"type": "rule", "color": "#e3201d", "strokeWidth": 2}, "encoding": {"x": {"datum": 650.1}, "x2": {"datum": 661.3}, "y": {"datum": 0.964}}},
    {"data": {"values": [{}]}, "mark": {"type": "rule", "color": "#111111", "strokeWidth": 2}, "encoding": {"x": {"datum": 650.1}, "x2": {"datum": 661.3}, "y": {"datum": 0.897}}},
    {"data": {"values": [{}]}, "mark": {"type": "text", "text": "200X", "align": "left", "baseline": "middle", "fontSize": 12, "color": "#111"}, "encoding": {"x": {"datum": 662.1}, "y": {"datum": 1.032}}},
    {"data": {"values": [{}]}, "mark": {"type": "text", "text": "30X", "align": "left", "baseline": "middle", "fontSize": 12, "color": "#111"}, "encoding": {"x": {"datum": 662.1}, "y": {"datum": 0.964}}},
    {"data": {"values": [{}]}, "mark": {"type": "text", "text": "Ctrl", "align": "left", "baseline": "middle", "fontSize": 12, "color": "#111"}, "encoding": {"x": {"datum": 662.1}, "y": {"datum": 0.897}}}
   ]
  },
  {
   "width": 336, "height": 248,
   "title": {"text": "B", "dx": -31, "offset": 4},
   "layer": [
    {
     "data": {"name": "specB"},
     "mark": {"type": "line", "strokeWidth": 2},
     "encoding": {
      "x": {"field": "w", "type": "quantitative", "scale": {"domain": [650, 776], "nice": false, "zero": false},
        "axis": {"values": [660,670,680,690,700,710,720,730,740,750,760,770], "labelExpr": "datum.value % 20 == 0 ? datum.label : ''", "tickSize": {"condition": {"test": "datum.value % 20 == 0", "value": 5}, "value": 3}, "tickWidth": 1.5, "domainWidth": 1.5, "labelFontSize": 18, "labelPadding": 4, "labelOverlap": false, "labelFlush": false, "title": "Wavelength (nm)", "titleFontSize": 20, "titleFontWeight": "normal", "titlePadding": 4}},
      "y": {"field": "f", "type": "quantitative", "scale": {"domain": [-0.086, 1.041], "nice": false, "zero": false},
        "axis": {"ticks": false, "labels": false, "domainWidth": 1.5, "title": "77K Fluorescence (norm.)", "titleFontSize": 18.5, "titleFontWeight": "normal", "titlePadding": 15, "titleY": 127.5}},
      "color": {"field": "s", "type": "nominal", "sort": null, "scale": {"domain": ["Ctrl", "-Mn"], "range": ["#111111", "#e3191c"]}, "legend": null}
     }
    },
    {"data": {"values": [{}]}, "mark": {"type": "rule", "color": "#111111", "strokeWidth": 2}, "encoding": {"x": {"datum": 652.25}, "x2": {"datum": 663.5}, "y": {"datum": 1.023}}},
    {"data": {"values": [{}]}, "mark": {"type": "rule", "color": "#e3191c", "strokeWidth": 2}, "encoding": {"x": {"datum": 652.25}, "x2": {"datum": 663.5}, "y": {"datum": 0.955}}},
    {"data": {"values": [{}]}, "mark": {"type": "text", "text": "Ctrl", "align": "left", "baseline": "middle", "fontSize": 12, "color": "#111"}, "encoding": {"x": {"datum": 664.3}, "y": {"datum": 1.023}}},
    {"data": {"values": [{}]}, "mark": {"type": "text", "text": "-Mn", "align": "left", "baseline": "middle", "fontSize": 12, "color": "#111"}, "encoding": {"x": {"datum": 664.3}, "y": {"datum": 0.955}}}
   ]
  }
 ],
 "spacing": 22,
 "resolve": {"scale": {"color": "independent"}}
},
{
 "hconcat": [
  {
   "width": 279.3, "height": 290,
   "title": {"text": "C", "dx": -37.7, "offset": 13},
   "layer": [
    {
     "data": {"name": "kinC"},
     "mark": {"type": "errorband", "band": {"opacity": 1}, "borders": {"strokeWidth": 0.9}},
     "encoding": {
      "x": {"field": "t", "type": "quantitative", "scale": {"type": "log", "domain": [0.2341, 362], "nice": false},
        "axis": {"domain": false, "values": [0.4,0.5,0.6,0.7,0.8,0.9,1,2,3,4,5,6,7,8,9,10,20,30,40,50,60,70,80,90,100,200,300], "labelExpr": "datum.value == 1 || datum.value == 10 || datum.value == 100 ? format(datum.value, 'd') : ''", "tickSize": {"condition": {"test": "datum.value == 1 || datum.value == 10 || datum.value == 100", "value": 7}, "value": 4}, "tickWidth": 1.2, "labelFontSize": 15, "labelPadding": 8, "labelOverlap": false, "labelFlush": false, "title": "Time (ms)", "titleFontSize": 20, "titleFontWeight": "bold", "titlePadding": 2, "titleX": 147.3}},
      "y": {"field": "f", "type": "quantitative", "scale": {"domain": [0, 100], "nice": false, "zero": false},
        "axis": {"offset": -15.3, "ticks": false, "labels": false, "domainWidth": 1.5, "title": "Fluorescence (a.u.)", "titleFontSize": 20, "titleFontWeight": "bold", "titlePadding": 11, "titleY": 175.5}},
      "yError": {"field": "e"},
      "color": {"field": "s", "type": "nominal", "sort": null, "scale": {"domain": ["Ctrl", "15x", "30x", "60x", "150x", "200x"], "range": ["#111111", "#8f8f8f", "#ee1c1c", "#191980", "#1a8a85", "#1e1ee6"]}, "legend": null}
     }
    },
    {
     "data": {"values": [{}]},
     "mark": {"type": "rule", "color": "#111", "strokeWidth": 1.5},
     "encoding": {"x": {"datum": 0.35}, "x2": {"datum": 362}, "y": {"datum": 0}}
    },
    {
     "data": {"name": "labC"},
     "mark": {"type": "text", "align": "left", "baseline": "middle", "dx": 10, "fontSize": 17, "color": "#111"},
     "encoding": {
      "x": {"field": "t", "type": "quantitative"},
      "y": {"field": "f", "type": "quantitative"},
      "text": {"field": "s"}
     }
    }
   ]
  },
  {
   "width": 267, "height": 293,
   "title": {"text": "D", "dx": -50, "offset": 12},
   "layer": [
    {
     "data": {"name": "kinD"},
     "mark": {"type": "errorband", "band": {"opacity": 1}, "borders": {"strokeWidth": 0.9}},
     "encoding": {
      "x": {"field": "t", "type": "quantitative", "scale": {"type": "log", "domain": [0.35, 362], "nice": false},
        "axis": {"values": [0.4,0.5,0.6,0.7,0.8,0.9,1,2,3,4,5,6,7,8,9,10,20,30,40,50,60,70,80,90,100,200,300], "labelExpr": "datum.value == 1 || datum.value == 10 || datum.value == 100 ? format(datum.value, 'd') : ''", "tickSize": {"condition": {"test": "datum.value == 1 || datum.value == 10 || datum.value == 100", "value": 7}, "value": 4}, "tickWidth": 1.2, "domainWidth": 1.3, "domainColor": "#555", "tickColor": "#555", "labelFontSize": 15, "labelPadding": 8, "labelOverlap": false, "labelFlush": false, "title": "Time (ms)", "titleFontSize": 20, "titleFontWeight": "bold", "titlePadding": 2}},
      "y": {"field": "f", "type": "quantitative", "scale": {"domain": [0, 100], "nice": false, "zero": false},
        "axis": {"ticks": false, "labels": false, "domainWidth": 1.3, "domainColor": "#555", "title": "Fluorescence (a.u)", "titleFontSize": 20, "titleFontWeight": "bold", "titlePadding": 15, "titleY": 172}},
      "yError": {"field": "e"},
      "color": {"field": "s", "type": "nominal", "sort": null, "scale": {"domain": ["no Mn", "Crtl"], "range": ["#f01414", "#111111"]}, "legend": null}
     }
    },
    {
     "data": {"name": "labD"},
     "mark": {"type": "text", "align": "left", "baseline": "middle", "dx": 13, "fontSize": 17, "color": "#111"},
     "encoding": {
      "x": {"field": "t", "type": "quantitative"},
      "y": {"field": "f", "type": "quantitative"},
      "text": {"field": "s"}
     }
    }
   ]
  }
 ],
 "spacing": 39,
 "resolve": {"scale": {"color": "independent"}}
}
]
}
